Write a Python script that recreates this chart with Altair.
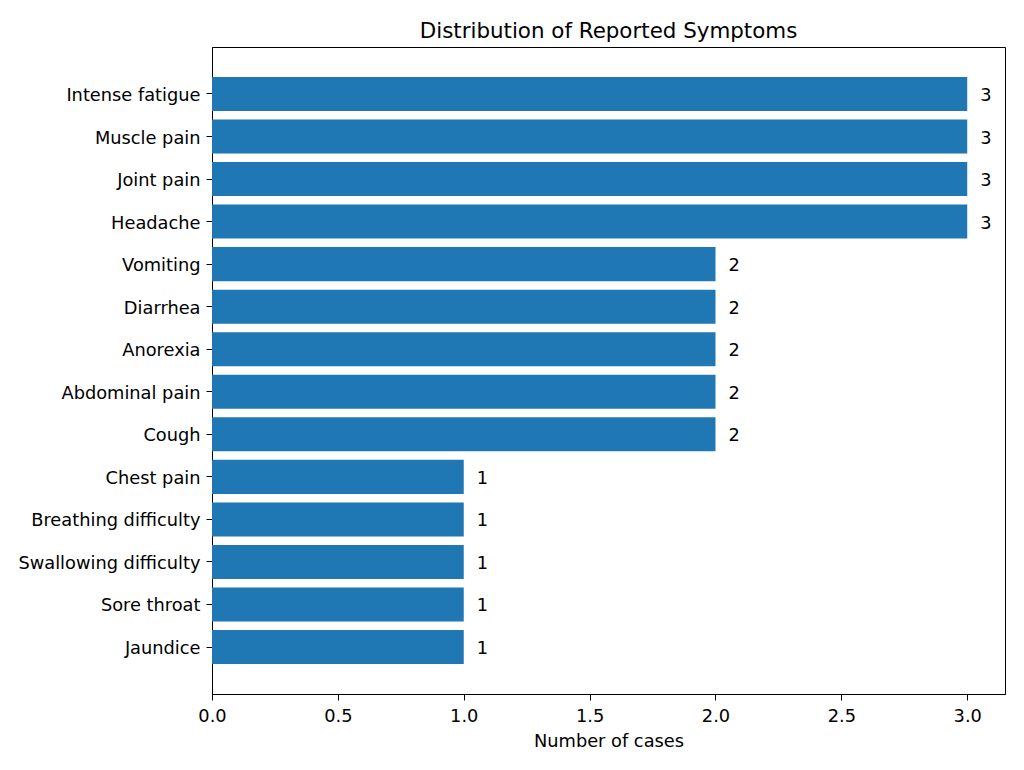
import altair as alt
import pandas as pd

symptoms = ["Intense fatigue", "Muscle pain", "Joint pain", "Headache", "Vomiting",
            "Diarrhea", "Anorexia", "Abdominal pain", "Cough", "Chest pain",
            "Breathing difficulty", "Swallowing difficulty", "Sore throat", "Jaundice"]
cases = [3, 3, 3, 3, 2, 2, 2, 2, 2, 1, 1, 1, 1, 1]

df = pd.DataFrame({"symptom": symptoms, "cases": cases})

FONT = "DejaVu Sans"
FS = 17.8

y_enc = alt.Y("symptom:N", sort=symptoms,
              scale=alt.Scale(paddingInner=0.2, paddingOuter=0.704),
              axis=alt.Axis(title=None, labelFontSize=FS, labelFont=FONT, labelColor="black",
                            tickColor="black", tickSize=6, domainColor="black",
                            labelPadding=6, labelLimit=400, labelOffset=2))
x_enc = alt.X("cases:Q", scale=alt.Scale(domain=[0, 3.15], nice=False, zero=True),
              axis=alt.Axis(title="Number of cases", values=[0, 0.5, 1, 1.5, 2, 2.5, 3],
                            format=".1f", grid=False, labelFontSize=FS, labelFont=FONT,
                            labelColor="black", titleFontSize=FS, titleFont=FONT,
                            titleFontWeight="normal", titleColor="black",
                            tickColor="black", tickSize=6, domainColor="black",
                            labelFlush=False, labelOverlap=False,
                            labelPadding=7, titlePadding=8))

bars = alt.Chart(df).mark_bar(color="#1f77b4").encode(x=x_enc, y=y_enc)
labels = alt.Chart(df).mark_text(align="left", baseline="middle", dx=13, dy=2, fontSize=FS,
                                 font=FONT, color="black").encode(
    x="cases:Q", y=alt.Y("symptom:N", sort=symptoms), text="cases:Q")

chart = (bars + labels).properties(
    width=793, height=647,
    title=alt.TitleParams("Distribution of Reported Symptoms", fontSize=21.4, font=FONT,
                          fontWeight="normal", color="black", anchor="middle", offset=5),
    autosize=alt.AutoSizeParams(type="none"),
    padding={"left": 204, "top": 39, "right": 11, "bottom": 60},
).configure_view(stroke="black", strokeWidth=1)

chart.save("out.html", embed_options={"renderer": "svg", "actions": False})
